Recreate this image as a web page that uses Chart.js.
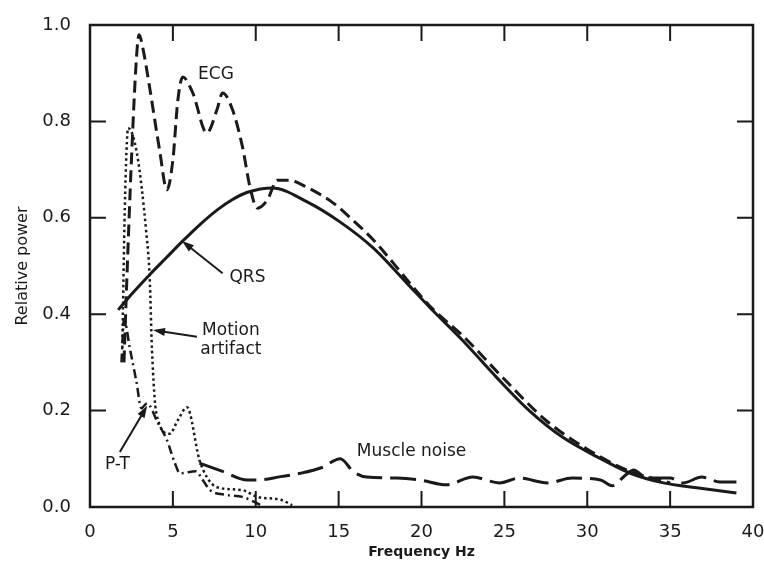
<!DOCTYPE html>
<html>
<head>
<meta charset="utf-8">
<script src="https://cdn.jsdelivr.net/npm/chart.js@4.4.0/dist/chart.umd.min.js"></script>
<style>
  body { margin: 0; background: #fff; }
  #box { width: 764px; height: 563px; }
</style>
</head>
<body>
<div id="box"><canvas id="grafico"></canvas></div>
<script>
// values (frequency in Hz, relative power)
var qrsFreq = [1.7, 2.6, 3.6, 4.6, 5.6, 6.6, 7.7, 8.6, 9.5, 11.0, 13.1, 15.1, 17.1, 19.1, 20.5, 22.5, 24.5, 26.5, 28.5, 30.6, 32.6, 34.6, 36.6, 39.0];
var qrsPower = [0.409, 0.445, 0.482, 0.517, 0.552, 0.585, 0.617, 0.638, 0.653, 0.662, 0.633, 0.591, 0.537, 0.465, 0.414, 0.345, 0.27, 0.20, 0.145, 0.104, 0.07, 0.05, 0.04, 0.029];

var ecgFreq = [2.05, 2.2, 2.5, 2.8, 2.96, 3.2, 3.6, 4.2, 4.64, 5.0, 5.3, 5.6, 6.2, 7.05, 7.66, 8.0, 8.6, 9.2, 9.65, 10.1, 10.7, 11.3, 12.0, 13.0, 14.7, 15.7, 17.1, 18.3, 19.5, 20.7, 22.5, 25, 27.5, 30, 32.5, 35];
var ecgPower = [0.30, 0.45, 0.72, 0.93, 0.98, 0.95, 0.87, 0.74, 0.658, 0.72, 0.844, 0.892, 0.859, 0.776, 0.824, 0.859, 0.824, 0.747, 0.664, 0.62, 0.637, 0.678, 0.678, 0.665, 0.63, 0.60, 0.554, 0.506, 0.456, 0.41, 0.355, 0.265, 0.18, 0.12, 0.075, 0.05];

var motionFreq = [1.95, 2.1, 2.3, 2.83, 3.4, 3.6, 3.74, 4.0, 4.8, 5.3, 5.85, 6.6, 7.05, 7.66, 9.2, 10.1, 11.5, 12.2];
var motionPower = [0.33, 0.62, 0.786, 0.734, 0.568, 0.477, 0.326, 0.195, 0.152, 0.18, 0.207, 0.098, 0.062, 0.041, 0.035, 0.021, 0.015, 0.004];

var ptFreq = [1.9, 2.05, 2.4, 2.8, 3.1, 3.44, 4.1, 4.64, 5.1, 5.43, 6.4, 6.8, 7.24, 8.26, 9.2, 10.3];
var ptPower = [0.30, 0.39, 0.33, 0.26, 0.205, 0.215, 0.174, 0.139, 0.093, 0.07, 0.074, 0.056, 0.035, 0.025, 0.021, 0.004];

var muscleFreq = [6.6, 8.0, 9.5, 10.1, 11.5, 12.7, 14.0, 15.1, 15.9, 16.7, 18.5, 19.9, 21.5, 23.1, 24.7, 25.9, 27.6, 29.1, 30.8, 31.5, 32.3, 32.8, 33.6, 35.0, 35.8, 36.9, 38.0, 39.0];
var musclePower = [0.091, 0.074, 0.056, 0.056, 0.063, 0.07, 0.082, 0.10, 0.073, 0.062, 0.06, 0.056, 0.046, 0.062, 0.05, 0.06, 0.05, 0.06, 0.056, 0.044, 0.066, 0.077, 0.06, 0.06, 0.05, 0.062, 0.052, 0.052];

var ink = '#1a1a1a';
var fam = "'DejaVu Sans', sans-serif";

// labels and arrows, placed in data units
var notes = [
    { text: 'ECG', x: 7.6, y: 0.897 },
    { text: 'QRS', x: 9.5, y: 0.477 },
    { text: 'Motion', x: 8.5, y: 0.366 },
    { text: 'artifact', x: 8.5, y: 0.326 },
    { text: 'P-T', x: 1.65, y: 0.087 },
    { text: 'Muscle noise', x: 19.4, y: 0.114 }
];
var arrows = [
    { from: [8.0, 0.485], to: [5.55, 0.552] },
    { from: [6.45, 0.353], to: [3.8, 0.367] },
    { from: [1.8, 0.114], to: [3.45, 0.21] }
];

function pts(xs, ys) {
    return xs.map(function (x, i) { return { x: x, y: ys[i] }; });
}

var framePlugin = {
    id: 'frame',
    afterDatasetsDraw: function (chart) {
        var ctx = chart.ctx;
        var a = chart.chartArea;
        var sx = chart.scales.x, sy = chart.scales.y;
        ctx.save();
        ctx.strokeStyle = ink;
        ctx.lineWidth = 2.5;
        ctx.strokeRect(a.left, a.top, a.right - a.left, a.bottom - a.top);

        // inward tick marks on all four sides
        var len = 16;
        ctx.lineWidth = 2;
        ctx.beginPath();
        sx.ticks.forEach(function (t) {
            var px = sx.getPixelForValue(t.value);
            ctx.moveTo(px, a.bottom); ctx.lineTo(px, a.bottom - len);
            ctx.moveTo(px, a.top); ctx.lineTo(px, a.top + len);
        });
        sy.ticks.forEach(function (t) {
            var py = sy.getPixelForValue(t.value);
            ctx.moveTo(a.left, py); ctx.lineTo(a.left + len, py);
            ctx.moveTo(a.right, py); ctx.lineTo(a.right - len, py);
        });
        ctx.stroke();

        // arrows
        ctx.lineWidth = 2;
        ctx.fillStyle = ink;
        arrows.forEach(function (ar) {
            var x1 = sx.getPixelForValue(ar.from[0]), y1 = sy.getPixelForValue(ar.from[1]);
            var x2 = sx.getPixelForValue(ar.to[0]), y2 = sy.getPixelForValue(ar.to[1]);
            var ang = Math.atan2(y2 - y1, x2 - x1);
            ctx.beginPath();
            ctx.moveTo(x1, y1); ctx.lineTo(x2 - 8 * Math.cos(ang), y2 - 8 * Math.sin(ang));
            ctx.stroke();
            ctx.beginPath();
            ctx.moveTo(x2, y2);
            ctx.lineTo(x2 - 12 * Math.cos(ang) + 4 * Math.sin(ang), y2 - 12 * Math.sin(ang) - 4 * Math.cos(ang));
            ctx.lineTo(x2 - 12 * Math.cos(ang) - 4 * Math.sin(ang), y2 - 12 * Math.sin(ang) + 4 * Math.cos(ang));
            ctx.closePath();
            ctx.fill();
        });

        // text labels
        ctx.font = '17px ' + fam;
        ctx.textAlign = 'center';
        ctx.textBaseline = 'middle';
        notes.forEach(function (n) {
            ctx.fillText(n.text, sx.getPixelForValue(n.x), sy.getPixelForValue(n.y));
        });
        ctx.restore();
    }
};

function lineSet(label, xs, ys, dash, width) {
    return {
        label: label,
        data: pts(xs, ys),
        borderColor: ink,
        borderWidth: width,
        borderDash: dash,
        pointRadius: 0,
        fill: false,
        cubicInterpolationMode: 'monotone'
    };
}

var config = {
    type: 'line',
    data: {
        datasets: [
            lineSet('QRS', qrsFreq, qrsPower, [], 3),
            lineSet('ECG', ecgFreq, ecgPower, [12, 6], 3),
            lineSet('Motion artifact', motionFreq, motionPower, [2.5, 3], 2.5),
            lineSet('P-T', ptFreq, ptPower, [9, 4, 2, 4], 2.5),
            lineSet('Muscle noise', muscleFreq, musclePower, [26, 8], 3)
        ]
    },
    options: {
        animation: false,
        responsive: true,
        maintainAspectRatio: false,
        layout: { padding: { top: 25, right: 11, left: 0, bottom: 0 } },
        plugins: { legend: { display: false }, tooltip: { enabled: false } },
        scales: {
            x: {
                type: 'linear', min: 0, max: 40,
                ticks: { stepSize: 5, color: ink, font: { family: fam, size: 18 }, padding: 7 },
                grid: { display: false },
                border: { display: false },
                title: { display: true, text: 'Frequency Hz', color: ink, font: { family: fam, size: 14, weight: 'bold' }, padding: { top: 0, bottom: 2 } },
                afterFit: function (s) { s.height = 56; s.paddingLeft = 0; s.paddingRight = 0; }
            },
            y: {
                min: 0, max: 1,
                ticks: { stepSize: 0.2, color: ink, font: { family: fam, size: 18 }, padding: 11,
                    callback: function (v) { return v.toFixed(1); } },
                grid: { display: false },
                border: { display: false },
                title: { display: true, text: 'Relative power', color: ink, font: { family: fam, size: 16 }, padding: { top: 13, bottom: 0 } },
                afterFit: function (s) { s.width = 90; s.paddingTop = 0; s.paddingBottom = 0; }
            }
        }
    },
    plugins: [framePlugin]
};

var grafico = new Chart(document.getElementById('grafico'), config);
</script>
</body>
</html>
